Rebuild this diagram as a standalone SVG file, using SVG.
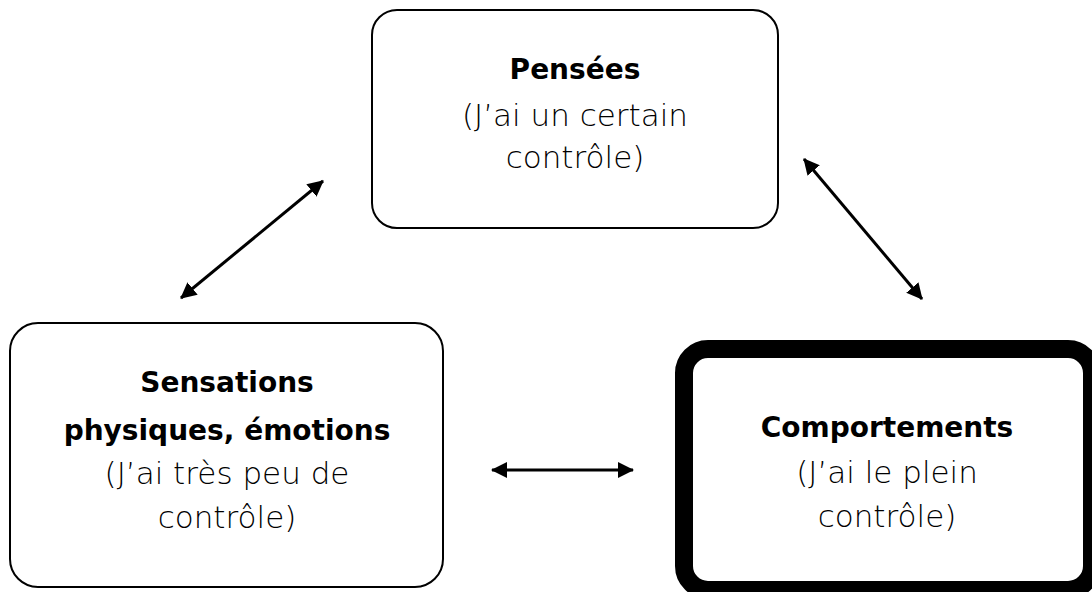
<svg xmlns="http://www.w3.org/2000/svg" width="1092" height="592" viewBox="0 0 1092 592">
  <style>
    .box { fill: #ffffff; stroke: #000000; stroke-width: 2; }
    .thick { fill: #ffffff; stroke: #000000; stroke-width: 18; }
    .t { font-family: "DejaVu Sans", "Verdana", sans-serif; text-anchor: middle; fill: #000000; }
    .b { font-size: 28px; font-weight: bold; }
    .r { font-size: 31px; font-weight: 300; }
    .conn { stroke: #000000; stroke-width: 3; fill: none; marker-start: url(#ah); marker-end: url(#ah); }
  </style>
  <defs>
    <marker id="ah" viewBox="0 0 16 16" refX="15" refY="8" markerWidth="16" markerHeight="16" markerUnits="userSpaceOnUse" orient="auto-start-reverse">
      <path d="M0,0 L16,8 L0,16 z" fill="#000000"/>
    </marker>
  </defs>
  <rect x="0" y="0" width="1092" height="592" fill="#ffffff"/>

  <g id="connectors">
    <line class="conn" x1="181" y1="298" x2="323" y2="181"/>
    <line class="conn" x1="804" y1="159" x2="922" y2="299"/>
    <line class="conn" x1="492" y1="470" x2="633" y2="470"/>
  </g>

  <g id="node-pensees">
    <rect class="box" x="372" y="10" width="406" height="218" rx="25" ry="25"/>
    <text class="t b" x="575" y="79">Pensées</text>
    <text class="t r" x="575" y="126">(J’ai un certain</text>
    <text class="t r" x="575" y="168">contrôle)</text>
  </g>

  <g id="node-sensations">
    <rect class="box" x="10" y="323" width="433" height="264" rx="28" ry="28"/>
    <text class="t b" x="227" y="392">Sensations</text>
    <text class="t b" x="227" y="440">physiques, émotions</text>
    <text class="t r" x="227" y="484">(J’ai très peu de</text>
    <text class="t r" x="227" y="528">contrôle)</text>
  </g>

  <g id="node-comportements">
    <rect class="thick" x="684" y="349" width="408" height="241" rx="24" ry="24"/>
    <text class="t b" x="887" y="437">Comportements</text>
    <text class="t r" x="887" y="483">(J’ai le plein</text>
    <text class="t r" x="887" y="527">contrôle)</text>
  </g>
</svg>
